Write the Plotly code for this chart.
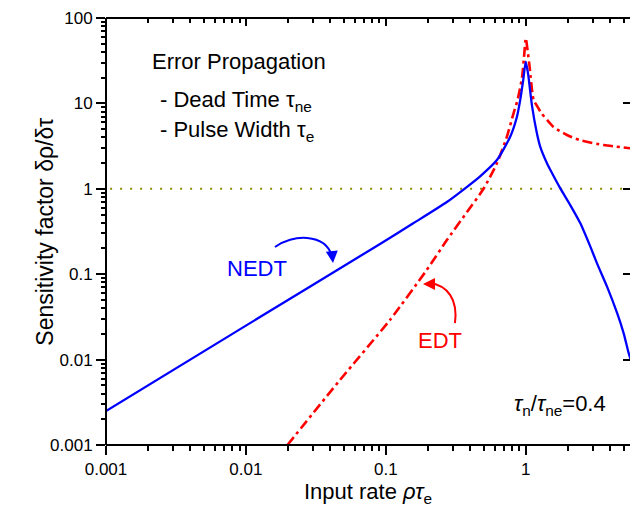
import plotly.graph_objects as go

# curvas (escala log-log)
nedt_x = [0.001, 0.01, 0.0909, 0.157, 0.273, 0.359, 0.472, 0.622, 0.774, 0.865, 0.913, 0.96, 1.0,
          1.04, 1.07, 1.107, 1.2, 1.27, 1.418, 1.5, 1.766, 2.08, 2.455, 2.895, 3.23, 3.81, 4.5,
          5.01, 5.44, 5.6]
nedt_y = [0.0025, 0.025, 0.226, 0.394, 0.70, 0.98, 1.40, 2.17, 4.07, 6.98, 11, 19, 30.8,
          22, 15, 9.5, 4.5, 3.1, 1.99, 1.66, 1.01, 0.645, 0.394, 0.21, 0.134, 0.0715, 0.0349,
          0.0203, 0.0119, 0.0102]

edt_x = [0.0198, 0.047, 0.107, 0.196, 0.273, 0.379, 0.499, 0.622, 0.733, 0.818, 0.874, 0.94,
         0.976, 1.0, 1.03, 1.065, 1.137, 1.2, 1.3, 1.42, 1.58, 1.97, 2.45, 3.6, 5.6]
edt_y = [0.001, 0.00577, 0.0291, 0.112, 0.251, 0.53, 1.0, 1.99, 4.07, 7.66, 11, 20,
         38, 58, 42, 27, 11, 9.4, 7.6, 6.4, 5.3, 4.27, 3.7, 3.26, 2.98]

ref_x = [0.00107, 5.6]
ref_y = [1, 1]

x_ticks = [0.001, 0.01, 0.1, 1]
x_labels = ['0.001', '0.01', '0.1', '1']
y_ticks = [0.001, 0.01, 0.1, 1, 10, 100]
y_labels = ['0.001', '0.01', '0.1', '1', '10', '100']

# ticks menores (2..9 de cada década)
x_minor = [m * 10.0 ** e for e in range(-3, 1) for m in range(2, 10)]
y_minor = [m * 10.0 ** e for e in range(-3, 2) for m in range(2, 10)]

fonte = 'Arial, Liberation Sans, sans-serif'
x_range = [-3, 0.745]
y_range = [-3, 2]

fig = go.Figure()
fig.add_trace(go.Scatter(x=ref_x, y=ref_y, mode='lines',
                         line=dict(color='#8c8c00', width=2, dash='2px,8px'), hoverinfo='skip'))
fig.add_trace(go.Scatter(x=edt_x, y=edt_y, mode='lines', line=dict(color='#ff0000', width=2.6,
                         dash='10px,4px,3px,4px', shape='spline', smoothing=0.6)))
fig.add_trace(go.Scatter(x=nedt_x, y=nedt_y, mode='lines',
                         line=dict(color='#0000ff', width=2.3, shape='spline', smoothing=0.6)))

# eixos auxiliares: cada par precisa de um traço invisível
for xa, ya in [('x2', 'y2'), ('x3', 'y3'), ('x4', 'y4')]:
    fig.add_trace(go.Scatter(x=[0.01], y=[1], xaxis=xa, yaxis=ya, mode='markers',
                             marker=dict(opacity=0), hoverinfo='skip'))

# as linhas da moldura vão como shapes; os eixos só desenham ticks
eixo = dict(type='log', showgrid=False, zeroline=False, showline=False,
            tickcolor='black', tickwidth=2, automargin=False,
            tickfont=dict(family=fonte, size=17, color='black'))
menor = dict(type='log', showgrid=False, zeroline=False, showline=False, showticklabels=False,
             tickcolor='black', tickwidth=1.5, automargin=False)

fig.update_layout(
    width=630, height=517,
    margin=dict(l=106, r=0, t=18, b=72),
    plot_bgcolor='white', paper_bgcolor='white',
    showlegend=False,
    font=dict(family=fonte, color='black'),
    xaxis=dict(eixo, range=x_range, tickvals=x_ticks, ticktext=x_labels,
               ticks='outside', ticklen=9,
               title=dict(text='Input rate <i>ρτ</i><sub>e</sub>', standoff=2,
                          font=dict(family=fonte, size=22))),
    yaxis=dict(eixo, range=y_range, tickvals=y_ticks, ticktext=y_labels,
               ticks='outside', ticklen=9),
    # topo e direita: ticks para dentro
    xaxis2=dict(eixo, range=x_range, overlaying='x', side='top', anchor='y2',
                tickvals=x_ticks, showticklabels=False, ticks='inside', ticklen=8),
    yaxis2=dict(eixo, range=y_range, overlaying='y', side='right', anchor='x2',
                tickvals=y_ticks, showticklabels=False, ticks='inside', ticklen=7),
    # ticks menores em baixo e à esquerda
    xaxis3=dict(menor, range=x_range, overlaying='x', side='bottom', anchor='y3',
                tickvals=x_minor, ticks='outside', ticklen=5),
    yaxis3=dict(menor, range=y_range, overlaying='y', side='left', anchor='x3',
                tickvals=y_minor, ticks='outside', ticklen=4),
    # ticks menores no topo
    xaxis4=dict(menor, range=x_range, overlaying='x', side='top', anchor='y4',
                tickvals=x_minor, ticks='inside', ticklen=5),
    yaxis4=dict(menor, range=y_range, overlaying='y', side='right', anchor='x4',
                tickvals=[], ticks=''),
)

# moldura: esquerda, baixo e topo
for x0, y0, x1, y1 in [(0, 0, 0, 1), (0, 0, 1, 0), (0, 1, 1, 1)]:
    fig.add_shape(type='line', xref='paper', yref='paper', x0=x0, y0=y0, x1=x1, y1=y1,
                  line=dict(color='black', width=2))

# título do eixo y como anotação, para ficar mais à esquerda
fig.add_annotation(x=-0.118, y=0.5, xref='paper', yref='paper', text='Sensitivity factor δρ/δτ',
                   textangle=-90, showarrow=False, xanchor='center', yanchor='middle',
                   font=dict(family=fonte, size=23, color='black'))

# setas curvas
fig.add_shape(type='path', xref='paper', yref='paper',
              path='M 0.3225,0.4637 C 0.355,0.4941 0.418,0.4965 0.4313,0.4426',
              line=dict(color='#0000ff', width=2))
fig.add_shape(type='path', xref='paper', yref='paper',
              path='M 0.666,0.2857 C 0.6718,0.3396 0.6527,0.3747 0.6164,0.3794',
              line=dict(color='#ff0000', width=2))
fig.add_annotation(x=0.4332, y=0.4262, xref='paper', yref='paper', text='', showarrow=True,
                   ax=-1, ay=-10, arrowhead=2, arrowsize=1.2, arrowwidth=2, arrowcolor='#0000ff')
fig.add_annotation(x=0.605, y=0.377, xref='paper', yref='paper', text='', showarrow=True,
                   ax=10, ay=0, arrowhead=2, arrowsize=1.2, arrowwidth=2, arrowcolor='#ff0000')

fig.add_annotation(x=0.288, y=0.4145, xref='paper', yref='paper', text='NEDT', showarrow=False,
                   xanchor='center', yanchor='middle',
                   font=dict(family=fonte, size=22, color='#0000ff'))
fig.add_annotation(x=0.6374, y=0.2459, xref='paper', yref='paper', text='EDT', showarrow=False,
                   xanchor='center', yanchor='middle',
                   font=dict(family=fonte, size=22, color='#ff0000'))

textos = [
    (0.084, 0.897, 'Error Propagation'),
    (0.099, 0.805, '- Dead Time τ<sub>ne</sub>'),
    (0.099, 0.735, '- Pulse Width τ<sub>e</sub>'),
]
for x, y, t in textos:
    fig.add_annotation(x=x, y=y, xref='paper', yref='paper', text=t, showarrow=False,
                       xanchor='left', yanchor='middle',
                       font=dict(family=fonte, size=22, color='black'))

fig.add_annotation(x=0.775, y=0.0937, xref='paper', yref='paper', xanchor='left',
                   yanchor='middle',
                   text='<i>τ</i><sub>n</sub>/<i>τ</i><sub>ne</sub>=0.4', showarrow=False,
                   font=dict(family=fonte, size=22, color='black'))

# tira a margem padrão do body para o gráfico ocupar a janela toda
fig.write_html("out.html", config={'displayModeBar': False},
               post_script="document.body.style.margin='0';")
